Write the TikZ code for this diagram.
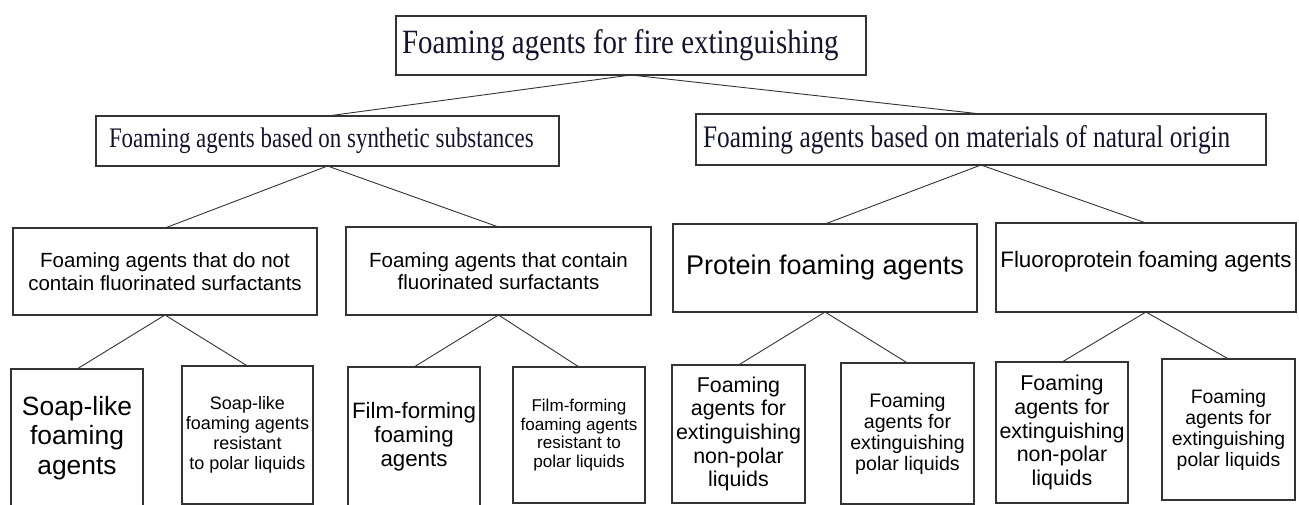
\documentclass[tikz,border=0pt]{standalone}
\usepackage{fontspec}
\setmainfont{Liberation Sans}
\newfontfamily\narrowserif[FakeStretch=0.85]{Liberation Serif}
\newfontfamily\narrowerserif[FakeStretch=0.81]{Liberation Serif}
\usetikzlibrary{positioning}
\definecolor{BoxGray}{rgb}{0.2, 0.2, 0.2}
\definecolor{InkNavy}{rgb}{0.08, 0.08, 0.18}
\newcommand{\fsz}[2]{\fontsize{#1}{#2}\selectfont}

\begin{document}
\begin{tikzpicture}[x=1pt, y=-1pt,
    box/.style={draw=BoxGray, line width=1.2pt, inner sep=0pt, outer sep=0pt, anchor=north west, align=center},
    link/.style={draw=BoxGray, line width=0.9pt}]
        \useasboundingbox (0,0) rectangle (1299,504);

        % Root
        \node[box, minimum height=59pt, text width=458pt, inner xsep=6pt, align=flush left, text=InkNavy, font=\narrowserif\fsz{34}{38}] (root) at (396,16) {Foaming agents for fire extinguishing};

        % Origin of the agents
        \node[box, minimum height=50pt, text width=437pt, inner xsep=13pt, align=flush left, text=InkNavy, font=\narrowerserif\fsz{28.3}{30}] (synth) at (96,116) {Foaming agents based on synthetic substances};
        \node[box, minimum height=51pt, text width=556pt, inner xsep=7pt, align=flush left, text=InkNavy, font=\narrowerserif\fsz{31.3}{33}] (nat) at (696,114) {Foaming agents based on materials of natural origin};

        % Groups
        \node[box, minimum width=304pt, minimum height=87pt, font=\fsz{20.5}{22.5}] (nofl) at (13,228) {Foaming agents that do not\\contain fluorinated surfactants};
        \node[box, minimum width=305pt, minimum height=88pt, font=\fsz{20.5}{22.5}] (fl) at (346,227) {Foaming agents that contain\\fluorinated surfactants};
        \node[box, minimum width=304pt, minimum height=88pt, font=\fsz{27}{30}] (prot) at (673,224) {Protein foaming agents};
        \node[box, minimum width=300pt, minimum height=89pt, text depth=17pt, font=\fsz{22.4}{25}] (fprot) at (996,223) {Fluoroprotein foaming agents};

        % Kinds
        \node[box, minimum width=132pt, minimum height=138pt, font=\fsz{26.4}{29.5}] (soap) at (11,369) {Soap-like\\foaming\\agents};
        \node[box, minimum width=131pt, minimum height=138pt, font=\fsz{18}{20}] (soappol) at (182,366) {Soap-like\\foaming agents\\resistant\\to polar liquids};
        \node[box, minimum width=132pt, minimum height=139pt, font=\fsz{22.3}{24}] (film) at (348,367) {Film-forming\\foaming\\agents};
        \node[box, minimum width=132pt, minimum height=136pt, font=\fsz{17.1}{18.5}] (filmpol) at (513,367) {Film-forming\\foaming agents\\resistant to\\polar liquids};
        \node[box, minimum width=133pt, minimum height=138pt, font=\fsz{21.4}{23.7}] (protnp) at (672,365) {Foaming\\agents for\\extinguishing\\non-polar\\liquids};
        \node[box, minimum width=133pt, minimum height=141pt, font=\fsz{19.6}{21}] (protp) at (841,363) {Foaming\\agents for\\extinguishing\\polar liquids};
        \node[box, minimum width=132pt, minimum height=141pt, font=\fsz{21.4}{23.7}] (fprotnp) at (996,362) {Foaming\\agents for\\extinguishing\\non-polar\\liquids};
        \node[box, minimum width=133pt, minimum height=141pt, font=\fsz{19.4}{21}] (fprotp) at (1162,359) {Foaming\\agents for\\extinguishing\\polar liquids};

        % Links
        \draw[link] (root.south) -- (synth.north);
        \draw[link] (root.south) -- (nat.north);
        \draw[link] (synth.south) -- (nofl.north);
        \draw[link] (synth.south) -- (fl.north);
        \draw[link] (nat.south) -- (prot.north);
        \draw[link] (nat.south) -- (fprot.north);
        \draw[link] (nofl.south) -- (soap.north);
        \draw[link] (nofl.south) -- (soappol.north);
        \draw[link] (fl.south) -- (film.north);
        \draw[link] (fl.south) -- (filmpol.north);
        \draw[link] (prot.south) -- (protnp.north);
        \draw[link] (prot.south) -- (protp.north);
        \draw[link] (fprot.south) -- (fprotnp.north);
        \draw[link] (fprot.south) -- (fprotp.north);
\end{tikzpicture}
\end{document}
